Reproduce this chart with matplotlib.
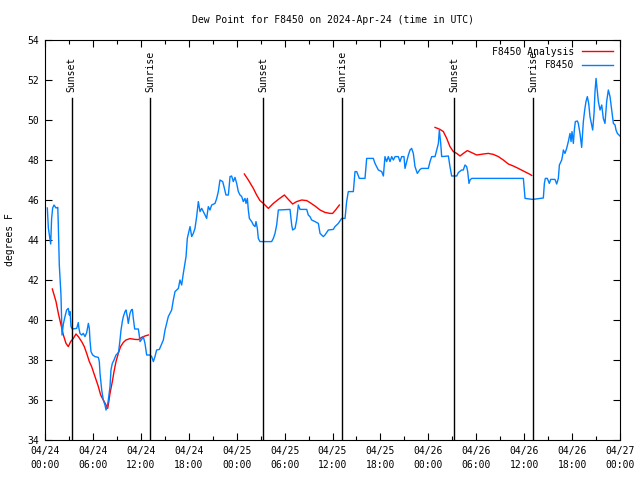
import numpy as np
import matplotlib
matplotlib.use("Agg")
import matplotlib.pyplot as plt
from matplotlib.ticker import MultipleLocator

# hours since 04/24 00:00 UTC
obs_hours = [
    0.29, 0.42, 0.71, 0.83, 0.96, 1.13, 1.38, 1.60, 1.67, 1.79, 2.00, 2.13, 2.30, 2.50,
    2.71, 2.92, 3.05, 3.13, 3.26, 3.42, 3.97, 4.17, 4.25, 4.38, 4.59, 4.80, 5.01, 5.22,
    5.43, 5.55, 5.63, 5.76, 5.97, 6.26, 6.68, 6.80, 6.89, 7.10, 7.30, 7.51, 7.64, 7.80,
    7.93, 8.14, 8.26, 8.43, 8.64, 8.89, 9.10, 9.22, 9.39, 9.52, 9.68, 9.81, 10.02, 10.14,
    10.31, 10.43, 10.64, 10.81, 10.94, 11.06, 11.23, 11.69, 11.77, 11.90, 12.10, 12.31,
    12.52, 12.73, 13.15, 13.36, 13.57, 13.77, 13.98, 14.32, 14.82, 15.03, 15.44, 15.86,
    16.07, 16.28, 16.70, 16.90, 17.11, 17.32, 17.66, 17.82, 18.16, 18.37, 18.57, 18.78,
    18.99, 19.20, 19.41, 19.62, 19.83, 20.04, 20.24, 20.45, 20.66, 20.87, 21.29, 21.50,
    21.70, 21.91, 22.25, 22.41, 22.66, 22.96, 23.17, 23.37, 23.58, 23.79, 24.00, 24.21,
    24.42, 24.63, 24.83, 25.04, 25.17, 25.34, 25.46, 25.59, 25.88, 26.09, 26.30, 26.42,
    26.59, 26.71, 26.92, 28.38, 28.59, 28.80, 29.01, 29.22, 30.68, 30.89, 31.01, 31.31,
    31.51, 31.72, 31.93, 32.77, 32.97, 33.18, 33.39, 33.81, 34.23, 34.44, 34.85, 35.06,
    35.48, 36.10, 36.31, 36.73, 37.15, 37.57, 37.77, 37.98, 38.61, 38.82, 39.03, 39.36,
    40.07, 40.28, 41.11, 41.32, 41.74, 42.16, 42.37, 42.57, 42.78, 42.99, 43.20, 43.41,
    43.62, 43.83, 44.24, 44.45, 44.66, 44.95, 45.08, 45.29, 45.50, 45.71, 45.91, 46.12,
    46.33, 46.62, 46.96, 47.17, 48.00, 48.21, 48.42, 48.84, 49.05, 49.26, 49.38, 49.55,
    49.67, 50.51, 50.71, 50.92, 51.55, 51.76, 52.17, 52.38, 52.59, 52.80, 52.93, 53.09,
    53.22, 53.43, 59.90, 60.11, 61.07, 62.40, 62.53, 62.65, 62.90, 63.15, 63.32, 63.86,
    64.07, 64.28, 64.41, 64.70, 64.82, 64.91, 65.11, 65.32, 65.53, 65.74, 65.87, 65.99,
    66.16, 66.28, 66.41, 66.66, 66.78, 66.99, 67.12, 67.20, 67.41, 67.58, 67.74, 67.91,
    68.08, 68.24, 68.37, 68.58, 68.75, 68.87, 69.00, 69.16, 69.29, 69.50, 69.71, 69.91,
    70.12, 70.33, 70.54, 70.75, 70.96, 71.17, 71.38, 71.50, 71.67, 72.00,
]
obs_dewpt = [
    45.60, 44.60, 43.80, 45.08, 45.60, 45.75, 45.60, 45.63, 44.70, 42.75, 41.25, 39.25, 39.80, 40.17,
    40.50, 40.58, 40.25, 40.42, 39.67, 39.55, 39.58, 39.87, 39.58, 39.33, 39.25, 39.33, 39.17, 39.37,
    39.83, 39.58, 39.00, 38.42, 38.25, 38.17, 38.13, 37.92, 37.33, 36.50, 36.00, 35.75, 35.50, 35.67,
    36.00, 36.67, 37.50, 37.83, 38.00, 38.25, 38.33, 38.42, 39.00, 39.50, 39.92, 40.17, 40.42, 40.50,
    40.17, 39.83, 40.33, 40.50, 40.53, 40.08, 39.55, 39.55, 39.33, 38.92, 39.03, 39.17,
    38.83, 38.25, 38.25, 38.17, 37.92, 38.17, 38.50, 38.53, 39.00, 39.50, 40.17, 40.50,
    41.00, 41.42, 41.58, 42.00, 41.75, 42.33, 43.17, 44.08, 44.67, 44.17, 44.33, 44.58,
    45.17, 45.92, 45.42, 45.58, 45.42, 45.25, 45.08, 45.67, 45.50, 45.75, 45.83, 46.08,
    46.42, 47.00, 46.92, 46.67, 46.25, 46.25, 47.17, 47.20, 46.92, 47.13, 46.83, 46.42,
    46.25, 46.17, 45.92, 46.08, 45.83, 46.08, 45.50, 45.08, 44.92, 44.75, 44.67, 44.92,
    44.58, 44.08, 43.92, 43.92, 44.08, 44.33, 44.75, 45.50, 45.53, 44.75, 44.50, 44.58,
    45.00, 45.75, 45.53, 45.53, 45.25, 45.17, 45.00, 44.92, 44.83, 44.33, 44.17, 44.25,
    44.50, 44.53, 44.67, 44.83, 45.08, 45.08, 45.92, 46.42, 46.42, 47.42, 47.42, 47.08,
    47.08, 48.08, 48.08, 47.83, 47.50, 47.42, 47.20, 48.17, 47.92, 48.17, 47.92, 48.17,
    48.00, 48.17, 48.17, 47.92, 48.17, 48.17, 47.58, 47.92, 48.25, 48.50, 48.58, 48.33,
    47.67, 47.33, 47.53, 47.58, 47.58, 47.92, 48.17, 48.17, 48.50, 48.83, 49.50, 48.83,
    48.17, 48.20, 47.67, 47.20, 47.20, 47.37, 47.50, 47.50, 47.75, 47.67, 47.42, 46.83,
    47.00, 47.08, 47.08, 46.08, 46.03, 46.10, 46.83, 47.08, 47.08, 46.83, 47.03, 47.03,
    46.80, 47.08, 47.75, 48.00, 48.25, 48.50, 48.33, 48.58, 48.92, 49.33, 48.92, 49.42,
    48.83, 49.50, 49.92, 49.95, 49.83, 49.33, 48.92, 48.63, 49.92, 50.50, 50.92, 51.17,
    50.83, 50.17, 49.92, 49.50, 50.33, 51.42, 52.08, 51.42, 50.92, 50.50, 50.75, 50.08,
    49.83, 50.92, 51.50, 51.17, 50.50, 49.83, 49.75, 49.50, 49.33, 49.20,
]

# analysis series (nan = gap between runs)
ana_hours = [
    0.92, 1.38, 1.67, 1.96, 2.30, 2.63, 2.92, 3.21, 3.55, 3.88, 4.17, 4.59, 4.92, 5.22,
    5.55, 5.84, 6.26, 6.68, 6.97, 7.30, 7.64, 7.85, 7.97, 8.14, 8.43, 8.64, 8.89, 9.18,
    9.47, 9.81, 10.14, 10.64, 11.27, 11.69, 12.10, 12.52, 12.94, 18.0,
    24.96, 25.46, 26.09, 26.50, 26.92, 27.34, 27.97, 28.59, 29.22, 29.97, 30.47, 31.01,
    31.51, 32.14, 32.77, 33.18, 33.81, 34.44, 35.06, 35.69, 36.02, 36.44, 36.86, 42.0,
    48.84, 49.46, 49.88, 50.30, 50.71, 51.13, 51.55, 51.97, 52.38, 52.88, 53.43, 54.05,
    54.89, 55.51, 56.14, 56.77, 57.39, 58.02, 58.64, 59.27, 59.90, 60.65, 60.94,
]
ana_dewpt = [
    41.55, 40.92, 40.33, 39.83, 39.25, 38.83, 38.67, 38.92, 39.08, 39.30, 39.17, 38.92, 38.67, 38.33,
    37.92, 37.67, 37.17, 36.67, 36.25, 36.00, 35.75, 35.58, 35.87, 36.33, 36.92, 37.42, 37.92, 38.33,
    38.67, 38.88, 39.00, 39.07, 39.03, 39.02, 39.13, 39.20, 39.25, np.nan,
    47.30, 47.00, 46.58, 46.25, 45.97, 45.83, 45.58, 45.83, 46.03, 46.25, 46.03, 45.80,
    45.92, 46.00, 45.97, 45.87, 45.70, 45.50, 45.38, 45.33, 45.33, 45.53, 45.75, np.nan,
    49.63, 49.53, 49.42, 49.08, 48.67, 48.42, 48.33, 48.20, 48.33, 48.47, 48.37, 48.25,
    48.30, 48.33, 48.28, 48.17, 48.00, 47.80, 47.70, 47.58, 47.45, 47.30, 47.23,
]

sun_hours = [3.34, 13.19, 27.34, 37.23, 51.26, 61.15]
sun_labels = ["Sunset", "Sunrise", "Sunset", "Sunrise", "Sunset", "Sunrise"]

tick_hours = list(range(0, 73, 6))
tick_labels = ["04/24\n00:00", "04/24\n06:00", "04/24\n12:00", "04/24\n18:00",
               "04/25\n00:00", "04/25\n06:00", "04/25\n12:00", "04/25\n18:00",
               "04/26\n00:00", "04/26\n06:00", "04/26\n12:00", "04/26\n18:00",
               "04/27\n00:00"]

plt.rcParams['font.family'] = ['DejaVu Sans Mono']
plt.rcParams['font.size'] = 7

fig = plt.figure(figsize=(6.4, 4.8), dpi=100)
ax = fig.add_axes([45 / 640, 40 / 480, 575 / 640, 400 / 480])

ax.plot(ana_hours, ana_dewpt, color='#ff0000', lw=1, label='F8450 Analysis')
ax.plot(obs_hours, obs_dewpt, color='#0080ff', lw=1, label='F8450')

for h, lab in zip(sun_hours, sun_labels):
    ax.plot([h, h], [34, 51.1], color='black', lw=1)
    ax.text(h, 51.4, lab, rotation=90, ha='center', va='bottom', fontsize=7)

ax.set_xlim(0, 72)
ax.set_ylim(34, 54)
ax.set_xticks(tick_hours)
ax.set_xticklabels(tick_labels, linespacing=1.6)
ax.xaxis.set_minor_locator(MultipleLocator(3))
ax.yaxis.set_major_locator(MultipleLocator(2))
ax.tick_params(which='both', direction='in', top=True, right=True, width=0.8)
ax.tick_params(which='major', length=5, pad=4)
ax.tick_params(which='minor', length=3)
for s in ax.spines.values():
    s.set_linewidth(0.8)

ax.set_ylabel('degrees F', labelpad=9)
ax.set_title('Dew Point for F8450 on 2024-Apr-24 (time in UTC)', fontsize=7, pad=12)

ax.legend(loc='upper right', frameon=False, markerfirst=False, handlelength=3.2,
          borderaxespad=0.3, labelspacing=0.35, fontsize=7)

fig.savefig('out.png', dpi=100)
